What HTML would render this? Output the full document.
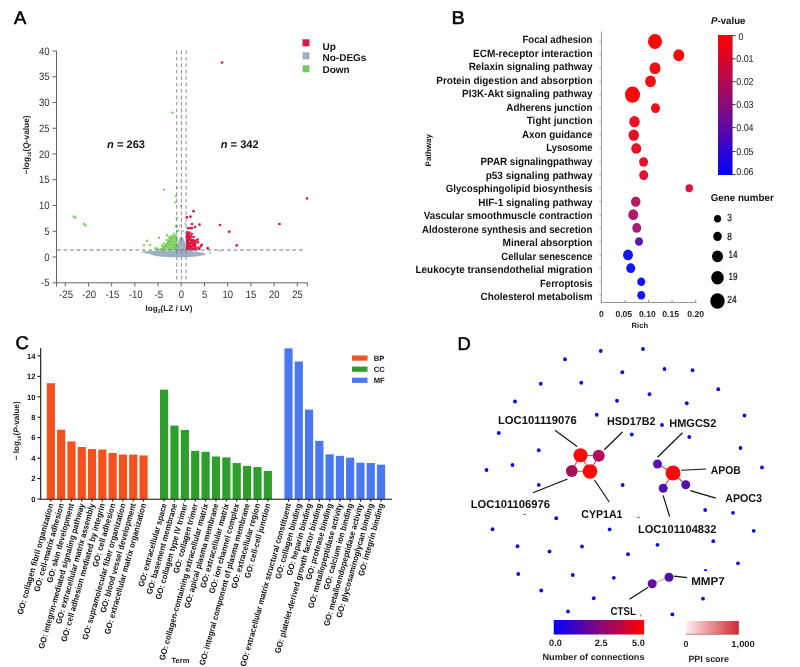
<!DOCTYPE html>
<html><head><meta charset="utf-8"><title>Figure</title>
<style>html,body{margin:0;padding:0;background:#fff;}svg{display:block;font-family:"Liberation Sans",sans-serif;text-rendering:geometricPrecision;filter:blur(0.3px);}</style>
</head><body>
<svg width="800" height="667" viewBox="0 0 800 667">
<rect width="800" height="667" fill="#fff"/>
<text x="13.90" y="24.10" font-size="18.4" font-weight="normal" text-anchor="start" fill="#000" stroke="#000" stroke-width="0.55">A</text>
<text x="451.50" y="24.10" font-size="18.4" font-weight="normal" text-anchor="start" fill="#000" textLength="13.3" lengthAdjust="spacingAndGlyphs" stroke="#000" stroke-width="0.55">B</text>
<text x="15.50" y="349.40" font-size="18.4" font-weight="normal" text-anchor="start" fill="#000" stroke="#000" stroke-width="0.55">C</text>
<text x="457.50" y="350.00" font-size="18.4" font-weight="normal" text-anchor="start" fill="#000" stroke="#000" stroke-width="0.55">D</text>
<g id="pA">
<g fill="#9bafc5">
<ellipse cx="178" cy="254" rx="27.5" ry="3.3"/>
<path d="M141 251.8 L146 251.2 L152 251 L165 250.6 L165 254 L150 254 L143 252.8 Z"/>
<path d="M176.3 252 L177.3 244 L179 239.5 L180.5 237 L181.5 236.2 L183 238 L185 242.5 L186.4 252 Z"/>
</g>
<g fill="#7fcf60">
<path d="M159 250.4 L162.5 246.6 L165.5 244.2 L167.5 240.8 L169.5 238.2 L172.5 236 L175.5 234.6 L177.4 235.2 L177.6 250.4 Z"/>
<circle cx="172.5" cy="112.75" r="1.2"/>
<circle cx="163.9" cy="189.8" r="1.2"/>
<circle cx="175.5" cy="202.4" r="1.2"/>
<circle cx="147" cy="240.7" r="1.2"/>
<circle cx="144" cy="245.2" r="1.2"/>
<circle cx="150" cy="245" r="1.2"/>
<circle cx="159" cy="237.7" r="1.2"/>
<circle cx="167" cy="235.2" r="1.2"/>
<circle cx="172.5" cy="235.5" r="1.2"/>
<circle cx="155.2" cy="248.2" r="1.2"/>
<circle cx="160.5" cy="249.3" r="1.2"/>
<circle cx="164" cy="243.5" r="1.2"/>
<circle cx="176" cy="226" r="1.2"/>
<circle cx="176.6" cy="218" r="1.2"/>
<circle cx="177" cy="231" r="1.2"/>
<circle cx="176" cy="196" r="1.2"/>
<circle cx="166.5" cy="240" r="1.2"/>
<circle cx="162" cy="245.5" r="1.2"/>
<circle cx="169" cy="238" r="1.2"/>
<circle cx="157.5" cy="248.8" r="1.2"/>
<circle cx="165.5" cy="246" r="1.2"/>
<circle cx="170.3" cy="236.8" r="1.2"/>
<circle cx="174.2" cy="233.6" r="1.2"/>
<circle cx="73.75" cy="216.5" r="1.25"/>
<circle cx="75.2" cy="217.4" r="1.25"/>
<circle cx="83.75" cy="224" r="1.25"/>
<circle cx="85.5" cy="225.4" r="1.25"/>
</g>
<g fill="#fff" opacity="0.75">
<circle cx="172" cy="243" r="0.6"/>
<circle cx="169.5" cy="246.5" r="0.6"/>
<circle cx="174" cy="240" r="0.6"/>
<circle cx="166.5" cy="248.2" r="0.6"/>
<circle cx="171" cy="248" r="0.6"/>
</g>
<g fill="#dc1848">
<path d="M185.8 232.6 L188.5 232.6 L190.3 236.5 L192.3 239.5 L194.6 242 L196.2 245 L197.2 250.4 L185.8 250.4 Z"/>
<circle cx="222" cy="62.5" r="1.35"/>
<circle cx="307" cy="198.5" r="1.35"/>
<circle cx="279.5" cy="224" r="1.35"/>
<circle cx="220" cy="225" r="1.35"/>
<circle cx="229.2" cy="231.7" r="1.35"/>
<circle cx="236.7" cy="245.4" r="1.35"/>
<circle cx="193.5" cy="211.2" r="1.35"/>
<circle cx="186.9" cy="217.3" r="1.35"/>
<circle cx="190.5" cy="216.7" r="1.35"/>
<circle cx="192" cy="224" r="1.35"/>
<circle cx="199.5" cy="224.7" r="1.35"/>
<circle cx="195" cy="227" r="1.35"/>
<circle cx="188.2" cy="228.3" r="1.35"/>
<circle cx="190.3" cy="228.1" r="1.35"/>
<circle cx="191.8" cy="228.2" r="1.35"/>
<circle cx="186.8" cy="236.5" r="1.35"/>
<circle cx="189" cy="235" r="1.35"/>
<circle cx="195.7" cy="240.7" r="1.35"/>
<circle cx="198" cy="242.2" r="1.35"/>
<circle cx="201.7" cy="244.8" r="1.35"/>
<circle cx="200.8" cy="246.3" r="1.35"/>
<circle cx="207.7" cy="248.2" r="1.35"/>
<circle cx="197.6" cy="239.5" r="1.35"/>
<circle cx="193.6" cy="237" r="1.35"/>
<circle cx="191.6" cy="233.8" r="1.35"/>
<circle cx="193" cy="240.2" r="1.35"/>
<circle cx="195.5" cy="243.5" r="1.35"/>
<circle cx="198.2" cy="247.8" r="1.35"/>
<circle cx="199.3" cy="249" r="1.35"/>
<circle cx="194.5" cy="241.5" r="1.35"/>
<circle cx="191.2" cy="236.3" r="1.35"/>
<circle cx="187" cy="232.3" r="1.35"/>
<circle cx="189.2" cy="232.6" r="1.35"/>
</g>
<g fill="#fff" opacity="0.75">
<circle cx="191.5" cy="244.5" r="0.55"/>
<circle cx="193.3" cy="247.2" r="0.55"/>
<circle cx="189.8" cy="241.2" r="0.55"/>
</g>
<g fill="#9bafc5">
<circle cx="210" cy="252.8" r="0.95"/>
<circle cx="219.5" cy="250.8" r="0.95"/>
<circle cx="185.2" cy="223.8" r="0.95"/>
<circle cx="180" cy="225.5" r="0.95"/>
<circle cx="183" cy="231" r="0.95"/>
<circle cx="177.3" cy="226.5" r="0.95"/>
<circle cx="181.5" cy="238" r="0.95"/>
<circle cx="178.5" cy="230.5" r="0.95"/>
<circle cx="181" cy="205.5" r="0.95"/>
<circle cx="176.8" cy="188" r="0.95"/>
<ellipse cx="181.4" cy="246" rx="0.9" ry="2" fill="#fff" opacity="0.8"/>
</g>
<g stroke="#777" stroke-width="0.85" stroke-dasharray="3.7 2.74" fill="none">
<line x1="176.8" y1="50.5" x2="176.8" y2="280.5"/>
<line x1="181.4" y1="50.5" x2="181.4" y2="280.5"/>
<line x1="186.1" y1="50.5" x2="186.1" y2="280.5"/>
<line x1="57" y1="250" x2="304.3" y2="250" stroke-dasharray="3.75 2.79" stroke-width="1"/>
</g>
<g stroke="#555" stroke-width="0.9" fill="none">
<path d="M56.5 50.5 V282.8 H307.5"/>
<line x1="52.5" x2="56.5" y1="282.75" y2="282.75"/>
<line x1="52.5" x2="56.5" y1="257.00" y2="257.00"/>
<line x1="52.5" x2="56.5" y1="231.25" y2="231.25"/>
<line x1="52.5" x2="56.5" y1="205.50" y2="205.50"/>
<line x1="52.5" x2="56.5" y1="179.75" y2="179.75"/>
<line x1="52.5" x2="56.5" y1="154.00" y2="154.00"/>
<line x1="52.5" x2="56.5" y1="128.25" y2="128.25"/>
<line x1="52.5" x2="56.5" y1="102.50" y2="102.50"/>
<line x1="52.5" x2="56.5" y1="76.75" y2="76.75"/>
<line x1="52.5" x2="56.5" y1="51.00" y2="51.00"/>
<line y1="282.8" y2="286.5" x1="65.25" x2="65.25"/>
<line y1="282.8" y2="286.5" x1="88.45" x2="88.45"/>
<line y1="282.8" y2="286.5" x1="111.65" x2="111.65"/>
<line y1="282.8" y2="286.5" x1="134.85" x2="134.85"/>
<line y1="282.8" y2="286.5" x1="158.05" x2="158.05"/>
<line y1="282.8" y2="286.5" x1="181.25" x2="181.25"/>
<line y1="282.8" y2="286.5" x1="204.45" x2="204.45"/>
<line y1="282.8" y2="286.5" x1="227.65" x2="227.65"/>
<line y1="282.8" y2="286.5" x1="250.85" x2="250.85"/>
<line y1="282.8" y2="286.5" x1="274.05" x2="274.05"/>
<line y1="282.8" y2="286.5" x1="297.25" x2="297.25"/>
<line y1="282.8" y2="286.5" x1="56.5" x2="56.5"/><line y1="282.8" y2="286.5" x1="307.3" x2="307.3"/>
</g>
<text x="49.60" y="286.45" font-size="10.7" font-weight="normal" text-anchor="end" fill="#333" textLength="8.6" lengthAdjust="spacingAndGlyphs">-5</text>
<text x="49.60" y="260.70" font-size="10.7" font-weight="normal" text-anchor="end" fill="#333" textLength="5.3" lengthAdjust="spacingAndGlyphs">0</text>
<text x="49.60" y="234.95" font-size="10.7" font-weight="normal" text-anchor="end" fill="#333" textLength="5.3" lengthAdjust="spacingAndGlyphs">5</text>
<text x="49.60" y="209.20" font-size="10.7" font-weight="normal" text-anchor="end" fill="#333" textLength="10.6" lengthAdjust="spacingAndGlyphs">10</text>
<text x="49.60" y="183.45" font-size="10.7" font-weight="normal" text-anchor="end" fill="#333" textLength="10.6" lengthAdjust="spacingAndGlyphs">15</text>
<text x="49.60" y="157.70" font-size="10.7" font-weight="normal" text-anchor="end" fill="#333" textLength="10.6" lengthAdjust="spacingAndGlyphs">20</text>
<text x="49.60" y="131.95" font-size="10.7" font-weight="normal" text-anchor="end" fill="#333" textLength="10.6" lengthAdjust="spacingAndGlyphs">25</text>
<text x="49.60" y="106.20" font-size="10.7" font-weight="normal" text-anchor="end" fill="#333" textLength="10.6" lengthAdjust="spacingAndGlyphs">30</text>
<text x="49.60" y="80.45" font-size="10.7" font-weight="normal" text-anchor="end" fill="#333" textLength="10.6" lengthAdjust="spacingAndGlyphs">35</text>
<text x="49.60" y="54.70" font-size="10.7" font-weight="normal" text-anchor="end" fill="#333" textLength="10.6" lengthAdjust="spacingAndGlyphs">40</text>
<text x="66.05" y="297.90" font-size="10.7" font-weight="normal" text-anchor="middle" fill="#333" textLength="13.9" lengthAdjust="spacingAndGlyphs">-25</text>
<text x="89.25" y="297.90" font-size="10.7" font-weight="normal" text-anchor="middle" fill="#333" textLength="13.9" lengthAdjust="spacingAndGlyphs">-20</text>
<text x="112.45" y="297.90" font-size="10.7" font-weight="normal" text-anchor="middle" fill="#333" textLength="13.9" lengthAdjust="spacingAndGlyphs">-15</text>
<text x="135.65" y="297.90" font-size="10.7" font-weight="normal" text-anchor="middle" fill="#333" textLength="13.9" lengthAdjust="spacingAndGlyphs">-10</text>
<text x="158.85" y="297.90" font-size="10.7" font-weight="normal" text-anchor="middle" fill="#333" textLength="8.6" lengthAdjust="spacingAndGlyphs">-5</text>
<text x="181.45" y="297.90" font-size="10.7" font-weight="normal" text-anchor="middle" fill="#333" textLength="5.3" lengthAdjust="spacingAndGlyphs">0</text>
<text x="204.65" y="297.90" font-size="10.7" font-weight="normal" text-anchor="middle" fill="#333" textLength="5.3" lengthAdjust="spacingAndGlyphs">5</text>
<text x="227.85" y="297.90" font-size="10.7" font-weight="normal" text-anchor="middle" fill="#333" textLength="10.6" lengthAdjust="spacingAndGlyphs">10</text>
<text x="251.05" y="297.90" font-size="10.7" font-weight="normal" text-anchor="middle" fill="#333" textLength="10.6" lengthAdjust="spacingAndGlyphs">15</text>
<text x="274.25" y="297.90" font-size="10.7" font-weight="normal" text-anchor="middle" fill="#333" textLength="10.6" lengthAdjust="spacingAndGlyphs">20</text>
<text x="297.45" y="297.90" font-size="10.7" font-weight="normal" text-anchor="middle" fill="#333" textLength="10.6" lengthAdjust="spacingAndGlyphs">25</text>
<text x="145.50" y="311.00" font-size="8.1" font-weight="bold" text-anchor="start" fill="#222">log<tspan font-size="5.3" dy="1.5">2</tspan><tspan dy="-1.5">(LZ / LV)</tspan></text>
<text x="29.50" y="174.30" font-size="8.3" font-weight="bold" text-anchor="start" fill="#222" transform="rotate(-90 29.50 174.30)">&#8722;log<tspan font-size="5" dy="1.5">10</tspan><tspan dy="-1.5">(</tspan><tspan font-style="italic">Q</tspan>-value)</text>
<text x="107.00" y="147.60" font-size="11" font-weight="bold" text-anchor="start" fill="#111" textLength="38.0" lengthAdjust="spacingAndGlyphs"><tspan font-style="italic">n</tspan> = 263</text>
<text x="220.70" y="147.60" font-size="11" font-weight="bold" text-anchor="start" fill="#111" textLength="38.0" lengthAdjust="spacingAndGlyphs"><tspan font-style="italic">n</tspan> = 342</text>
<rect x="302.5" y="39.3" width="7" height="7" fill="#dc1848"/>
<text x="322.50" y="49.50" font-size="10" font-weight="bold" text-anchor="start" fill="#111">Up</text>
<rect x="302.5" y="52.3" width="7" height="7" fill="#9bafc5"/>
<text x="322.50" y="61.20" font-size="10" font-weight="bold" text-anchor="start" fill="#111">No-DEGs</text>
<rect x="302.5" y="65.3" width="7" height="7" fill="#74c864"/>
<text x="322.50" y="72.90" font-size="10" font-weight="bold" text-anchor="start" fill="#111">Down</text>
</g>
<g id="pB">
<text x="592.50" y="43.20" font-size="10.5" font-weight="bold" text-anchor="end" fill="#111" textLength="70.0" lengthAdjust="spacingAndGlyphs">Focal adhesion</text>
<text x="592.50" y="56.73" font-size="10.5" font-weight="bold" text-anchor="end" fill="#111" textLength="119.5" lengthAdjust="spacingAndGlyphs">ECM-receptor interaction</text>
<text x="592.50" y="70.26" font-size="10.5" font-weight="bold" text-anchor="end" fill="#111" textLength="123.8" lengthAdjust="spacingAndGlyphs">Relaxin signaling pathway</text>
<text x="592.50" y="83.79" font-size="10.5" font-weight="bold" text-anchor="end" fill="#111" textLength="156.2" lengthAdjust="spacingAndGlyphs">Protein digestion and absorption</text>
<text x="592.50" y="97.32" font-size="10.5" font-weight="bold" text-anchor="end" fill="#111" textLength="130.5" lengthAdjust="spacingAndGlyphs">PI3K-Akt signaling pathway</text>
<text x="592.50" y="110.85" font-size="10.5" font-weight="bold" text-anchor="end" fill="#111" textLength="86.2" lengthAdjust="spacingAndGlyphs">Adherens junction</text>
<text x="592.50" y="124.38" font-size="10.5" font-weight="bold" text-anchor="end" fill="#111" textLength="65.8" lengthAdjust="spacingAndGlyphs">Tight junction</text>
<text x="592.50" y="137.91" font-size="10.5" font-weight="bold" text-anchor="end" fill="#111" textLength="70.5" lengthAdjust="spacingAndGlyphs">Axon guidance</text>
<text x="592.50" y="151.44" font-size="10.5" font-weight="bold" text-anchor="end" fill="#111" textLength="46.2" lengthAdjust="spacingAndGlyphs">Lysosome</text>
<text x="592.50" y="164.97" font-size="10.5" font-weight="bold" text-anchor="end" fill="#111" textLength="112.0" lengthAdjust="spacingAndGlyphs">PPAR signalingpathway</text>
<text x="592.50" y="178.50" font-size="10.5" font-weight="bold" text-anchor="end" fill="#111" textLength="106.8" lengthAdjust="spacingAndGlyphs">p53 signaling pathway</text>
<text x="592.50" y="192.03" font-size="10.5" font-weight="bold" text-anchor="end" fill="#111" textLength="146.8" lengthAdjust="spacingAndGlyphs">Glycosphingolipid biosynthesis</text>
<text x="592.50" y="205.56" font-size="10.5" font-weight="bold" text-anchor="end" fill="#111" textLength="114.2" lengthAdjust="spacingAndGlyphs">HIF-1 signaling pathway</text>
<text x="592.50" y="219.09" font-size="10.5" font-weight="bold" text-anchor="end" fill="#111" textLength="168.8" lengthAdjust="spacingAndGlyphs">Vascular smoothmuscle contraction</text>
<text x="592.50" y="232.62" font-size="10.5" font-weight="bold" text-anchor="end" fill="#111" textLength="170.5" lengthAdjust="spacingAndGlyphs">Aldosterone synthesis and secretion</text>
<text x="592.50" y="246.15" font-size="10.5" font-weight="bold" text-anchor="end" fill="#111" textLength="90.0" lengthAdjust="spacingAndGlyphs">Mineral absorption</text>
<text x="592.50" y="259.68" font-size="10.5" font-weight="bold" text-anchor="end" fill="#111" textLength="91.2" lengthAdjust="spacingAndGlyphs">Cellular senescence</text>
<text x="592.50" y="273.21" font-size="10.5" font-weight="bold" text-anchor="end" fill="#111" textLength="177.0" lengthAdjust="spacingAndGlyphs">Leukocyte transendothelial migration</text>
<text x="592.50" y="286.74" font-size="10.5" font-weight="bold" text-anchor="end" fill="#111" textLength="52.5" lengthAdjust="spacingAndGlyphs">Ferroptosis</text>
<text x="592.50" y="300.27" font-size="10.5" font-weight="bold" text-anchor="end" fill="#111" textLength="112.0" lengthAdjust="spacingAndGlyphs">Cholesterol metabolism</text>
<g stroke="#8a8a8a" stroke-width="0.9" fill="none">
<path d="M601.4 31.5 V302.5 H696.5"/>
<line x1="599.3" x2="601.3" y1="41.30" y2="41.30" stroke="#a8a8a8"/>
<line x1="599.3" x2="601.3" y1="54.65" y2="54.65" stroke="#a8a8a8"/>
<line x1="599.3" x2="601.3" y1="68.00" y2="68.00" stroke="#a8a8a8"/>
<line x1="599.3" x2="601.3" y1="81.35" y2="81.35" stroke="#a8a8a8"/>
<line x1="599.3" x2="601.3" y1="94.70" y2="94.70" stroke="#a8a8a8"/>
<line x1="599.3" x2="601.3" y1="108.05" y2="108.05" stroke="#a8a8a8"/>
<line x1="599.3" x2="601.3" y1="121.40" y2="121.40" stroke="#a8a8a8"/>
<line x1="599.3" x2="601.3" y1="134.75" y2="134.75" stroke="#a8a8a8"/>
<line x1="599.3" x2="601.3" y1="148.10" y2="148.10" stroke="#a8a8a8"/>
<line x1="599.3" x2="601.3" y1="161.45" y2="161.45" stroke="#a8a8a8"/>
<line x1="599.3" x2="601.3" y1="174.80" y2="174.80" stroke="#a8a8a8"/>
<line x1="599.3" x2="601.3" y1="188.15" y2="188.15" stroke="#a8a8a8"/>
<line x1="599.3" x2="601.3" y1="201.50" y2="201.50" stroke="#a8a8a8"/>
<line x1="599.3" x2="601.3" y1="214.85" y2="214.85" stroke="#a8a8a8"/>
<line x1="599.3" x2="601.3" y1="228.20" y2="228.20" stroke="#a8a8a8"/>
<line x1="599.3" x2="601.3" y1="241.55" y2="241.55" stroke="#a8a8a8"/>
<line x1="599.3" x2="601.3" y1="254.90" y2="254.90" stroke="#a8a8a8"/>
<line x1="599.3" x2="601.3" y1="268.25" y2="268.25" stroke="#a8a8a8"/>
<line x1="599.3" x2="601.3" y1="281.60" y2="281.60" stroke="#a8a8a8"/>
<line x1="599.3" x2="601.3" y1="294.95" y2="294.95" stroke="#a8a8a8"/>
<line y1="300" y2="302.5" x1="601.30" x2="601.30"/>
<line y1="300" y2="302.5" x1="624.90" x2="624.90"/>
<line y1="300" y2="302.5" x1="648.50" x2="648.50"/>
<line y1="300" y2="302.5" x1="672.10" x2="672.10"/>
<line y1="300" y2="302.5" x1="695.70" x2="695.70"/>
</g>
<text x="601.30" y="316.90" font-size="8.6" font-weight="bold" text-anchor="middle" fill="#222">0</text>
<text x="623.80" y="316.90" font-size="8.6" font-weight="bold" text-anchor="middle" fill="#222">0.05</text>
<text x="647.40" y="316.90" font-size="8.6" font-weight="bold" text-anchor="middle" fill="#222">0.10</text>
<text x="670.60" y="316.90" font-size="8.6" font-weight="bold" text-anchor="middle" fill="#222">0.15</text>
<text x="695.60" y="316.90" font-size="8.6" font-weight="bold" text-anchor="middle" fill="#222">0.20</text>
<text x="639.80" y="327.80" font-size="7.6" font-weight="bold" text-anchor="middle" fill="#222">Rich</text>
<text x="431.00" y="150.20" font-size="8" font-weight="bold" text-anchor="middle" fill="#1a1a1a" transform="rotate(-90 431.00 150.20)">Pathway</text>
<ellipse cx="655" cy="41.45" rx="7" ry="7.56" fill="#fb0808"/>
<ellipse cx="678.75" cy="55.2" rx="5.5" ry="5.94" fill="#f80a0c"/>
<ellipse cx="655" cy="68.2" rx="5.5" ry="5.94" fill="#f50c10"/>
<ellipse cx="650.5" cy="81.45" rx="5.4" ry="5.83" fill="#f40c12"/>
<ellipse cx="632.5" cy="94.7" rx="7.5" ry="8.10" fill="#fa080a"/>
<ellipse cx="655.5" cy="108.2" rx="4.5" ry="4.86" fill="#f20e16"/>
<ellipse cx="634.5" cy="121.7" rx="5.25" ry="5.67" fill="#ea1020"/>
<ellipse cx="633.75" cy="135.2" rx="5.25" ry="5.67" fill="#e41226"/>
<ellipse cx="636.25" cy="148.45" rx="5" ry="5.40" fill="#e4122a"/>
<ellipse cx="643.6" cy="162.0" rx="4.5" ry="4.86" fill="#e8102a"/>
<ellipse cx="643.75" cy="175.2" rx="4.5" ry="4.86" fill="#e01234"/>
<ellipse cx="689.25" cy="188.2" rx="3.75" ry="4.05" fill="#d8143c"/>
<ellipse cx="635.75" cy="201.7" rx="4.75" ry="5.13" fill="#b81a60"/>
<ellipse cx="633.25" cy="214.7" rx="5" ry="5.40" fill="#b01a6c"/>
<ellipse cx="636.75" cy="227.95" rx="4.5" ry="4.86" fill="#a81a76"/>
<ellipse cx="639" cy="241.45" rx="4" ry="4.32" fill="#5418b4"/>
<ellipse cx="628" cy="254.95" rx="5" ry="5.40" fill="#1414ec"/>
<ellipse cx="630.75" cy="268.2" rx="4.5" ry="4.86" fill="#1414f6"/>
<ellipse cx="641.25" cy="281.7" rx="4" ry="4.32" fill="#1010fa"/>
<ellipse cx="641.25" cy="295.2" rx="4" ry="4.32" fill="#1212f8"/>
<defs><linearGradient id="gB" x1="0" y1="0" x2="0" y2="1"><stop offset="0" stop-color="#ff0000"/><stop offset="0.5" stop-color="#8a0c7a"/><stop offset="1" stop-color="#0000ff"/></linearGradient></defs>
<rect x="718" y="35" width="14.3" height="140" fill="url(#gB)"/>
<line x1="732.3" x2="732.3" y1="35" y2="175" stroke="#301030" stroke-width="0.6" opacity="0.7"/>
<g stroke="#222" stroke-width="0.9">
<line x1="732.3" x2="735.6" y1="35.6" y2="35.6"/>
<line x1="732.3" x2="735.6" y1="58.8" y2="58.8"/>
<line x1="732.3" x2="735.6" y1="81.6" y2="81.6"/>
<line x1="732.3" x2="735.6" y1="104.6" y2="104.6"/>
<line x1="732.3" x2="735.6" y1="127.6" y2="127.6"/>
<line x1="732.3" x2="735.6" y1="151.5" y2="151.5"/>
<line x1="732.3" x2="735.6" y1="174.6" y2="174.6"/>
</g>
<text x="738.60" y="40.25" font-size="10" font-weight="normal" text-anchor="start" fill="#1a1a1a" textLength="5.0" lengthAdjust="spacingAndGlyphs">0</text>
<text x="736.20" y="62.25" font-size="10" font-weight="normal" text-anchor="start" fill="#1a1a1a" textLength="17.4" lengthAdjust="spacingAndGlyphs">0.01</text>
<text x="736.20" y="84.75" font-size="10" font-weight="normal" text-anchor="start" fill="#1a1a1a" textLength="17.4" lengthAdjust="spacingAndGlyphs">0.02</text>
<text x="736.20" y="107.50" font-size="10" font-weight="normal" text-anchor="start" fill="#1a1a1a" textLength="17.4" lengthAdjust="spacingAndGlyphs">0.03</text>
<text x="736.20" y="130.50" font-size="10" font-weight="normal" text-anchor="start" fill="#1a1a1a" textLength="17.4" lengthAdjust="spacingAndGlyphs">0.04</text>
<text x="736.20" y="154.75" font-size="10" font-weight="normal" text-anchor="start" fill="#1a1a1a" textLength="17.4" lengthAdjust="spacingAndGlyphs">0.05</text>
<text x="736.20" y="175.25" font-size="10" font-weight="normal" text-anchor="start" fill="#1a1a1a" textLength="17.4" lengthAdjust="spacingAndGlyphs">0.06</text>
<text x="711.00" y="24.00" font-size="10" font-weight="bold" text-anchor="start" fill="#111" textLength="34.5" lengthAdjust="spacingAndGlyphs"><tspan font-style="italic">P</tspan>-value</text>
<text x="710.75" y="200.70" font-size="10" font-weight="bold" text-anchor="start" fill="#111" textLength="63.0" lengthAdjust="spacingAndGlyphs">Gene number</text>
<ellipse cx="717.5" cy="218.8" rx="3.5" ry="3.75" fill="#000"/>
<text x="727.30" y="220.85" font-size="10.4" font-weight="normal" text-anchor="start" fill="#111" textLength="4.6" lengthAdjust="spacingAndGlyphs" stroke="#111" stroke-width="0.2">3</text>
<ellipse cx="717.5" cy="236.4" rx="4.3" ry="4.60" fill="#000"/>
<text x="727.30" y="239.55" font-size="10.4" font-weight="normal" text-anchor="start" fill="#111" textLength="4.6" lengthAdjust="spacingAndGlyphs" stroke="#111" stroke-width="0.2">8</text>
<ellipse cx="717.5" cy="256.3" rx="5.5" ry="5.89" fill="#000"/>
<text x="728.60" y="257.75" font-size="10.4" font-weight="normal" text-anchor="start" fill="#111" textLength="9.0" lengthAdjust="spacingAndGlyphs" stroke="#111" stroke-width="0.2">14</text>
<ellipse cx="717.5" cy="277.7" rx="6.3" ry="6.74" fill="#000"/>
<text x="728.60" y="279.55" font-size="10.4" font-weight="normal" text-anchor="start" fill="#111" textLength="9.0" lengthAdjust="spacingAndGlyphs" stroke="#111" stroke-width="0.2">19</text>
<ellipse cx="717.5" cy="301" rx="7.2" ry="7.70" fill="#000"/>
<text x="727.30" y="303.25" font-size="10.4" font-weight="normal" text-anchor="start" fill="#111" textLength="9.4" lengthAdjust="spacingAndGlyphs" stroke="#111" stroke-width="0.2">24</text>
</g>
<g id="pC">
<rect x="46.75" y="383.21" width="8.2" height="115.79" fill="#f4511e"/>
<rect x="57.05" y="429.71" width="8.2" height="69.29" fill="#f4511e"/>
<rect x="67.35" y="441.46" width="8.2" height="57.54" fill="#f4511e"/>
<rect x="77.65" y="446.98" width="8.2" height="52.02" fill="#f4511e"/>
<rect x="87.95" y="449.02" width="8.2" height="49.98" fill="#f4511e"/>
<rect x="98.25" y="449.54" width="8.2" height="49.46" fill="#f4511e"/>
<rect x="108.55" y="453.01" width="8.2" height="45.99" fill="#f4511e"/>
<rect x="118.85" y="454.54" width="8.2" height="44.46" fill="#f4511e"/>
<rect x="129.15" y="454.54" width="8.2" height="44.46" fill="#f4511e"/>
<rect x="139.45" y="455.46" width="8.2" height="43.54" fill="#f4511e"/>
<rect x="160.00" y="389.65" width="8.2" height="109.35" fill="#2e9e2c"/>
<rect x="170.38" y="425.62" width="8.2" height="73.38" fill="#2e9e2c"/>
<rect x="180.75" y="429.91" width="8.2" height="69.09" fill="#2e9e2c"/>
<rect x="191.12" y="450.86" width="8.2" height="48.14" fill="#2e9e2c"/>
<rect x="201.50" y="451.78" width="8.2" height="47.22" fill="#2e9e2c"/>
<rect x="211.88" y="456.48" width="8.2" height="42.52" fill="#2e9e2c"/>
<rect x="222.25" y="457.40" width="8.2" height="41.60" fill="#2e9e2c"/>
<rect x="232.62" y="463.03" width="8.2" height="35.97" fill="#2e9e2c"/>
<rect x="243.00" y="465.89" width="8.2" height="33.11" fill="#2e9e2c"/>
<rect x="253.38" y="467.11" width="8.2" height="31.89" fill="#2e9e2c"/>
<rect x="263.75" y="470.89" width="8.2" height="28.11" fill="#2e9e2c"/>
<rect x="284.40" y="348.36" width="8.2" height="150.64" fill="#4a78f0"/>
<rect x="294.68" y="361.54" width="8.2" height="137.46" fill="#4a78f0"/>
<rect x="304.96" y="409.57" width="8.2" height="89.43" fill="#4a78f0"/>
<rect x="315.24" y="440.85" width="8.2" height="58.15" fill="#4a78f0"/>
<rect x="325.52" y="454.34" width="8.2" height="44.66" fill="#4a78f0"/>
<rect x="335.80" y="455.87" width="8.2" height="43.13" fill="#4a78f0"/>
<rect x="346.08" y="457.71" width="8.2" height="41.29" fill="#4a78f0"/>
<rect x="356.36" y="462.72" width="8.2" height="36.28" fill="#4a78f0"/>
<rect x="366.64" y="463.03" width="8.2" height="35.97" fill="#4a78f0"/>
<rect x="376.92" y="464.66" width="8.2" height="34.34" fill="#4a78f0"/>
<g stroke="#111" stroke-width="1.1" fill="none">
<path d="M40.7 348 V499.2 H392"/>
<line x1="37.5" x2="40.5" y1="499.00" y2="499.00"/>
<line x1="37.5" x2="40.5" y1="478.56" y2="478.56"/>
<line x1="37.5" x2="40.5" y1="458.12" y2="458.12"/>
<line x1="37.5" x2="40.5" y1="437.68" y2="437.68"/>
<line x1="37.5" x2="40.5" y1="417.24" y2="417.24"/>
<line x1="37.5" x2="40.5" y1="396.80" y2="396.80"/>
<line x1="37.5" x2="40.5" y1="376.36" y2="376.36"/>
<line x1="37.5" x2="40.5" y1="355.92" y2="355.92"/>
<line y1="499" y2="501.5" x1="50.85" x2="50.85"/>
<line y1="499" y2="501.5" x1="61.15" x2="61.15"/>
<line y1="499" y2="501.5" x1="71.45" x2="71.45"/>
<line y1="499" y2="501.5" x1="81.75" x2="81.75"/>
<line y1="499" y2="501.5" x1="92.05" x2="92.05"/>
<line y1="499" y2="501.5" x1="102.35" x2="102.35"/>
<line y1="499" y2="501.5" x1="112.65" x2="112.65"/>
<line y1="499" y2="501.5" x1="122.95" x2="122.95"/>
<line y1="499" y2="501.5" x1="133.25" x2="133.25"/>
<line y1="499" y2="501.5" x1="143.55" x2="143.55"/>
<line y1="499" y2="501.5" x1="164.10" x2="164.10"/>
<line y1="499" y2="501.5" x1="174.47" x2="174.47"/>
<line y1="499" y2="501.5" x1="184.85" x2="184.85"/>
<line y1="499" y2="501.5" x1="195.22" x2="195.22"/>
<line y1="499" y2="501.5" x1="205.60" x2="205.60"/>
<line y1="499" y2="501.5" x1="215.97" x2="215.97"/>
<line y1="499" y2="501.5" x1="226.35" x2="226.35"/>
<line y1="499" y2="501.5" x1="236.72" x2="236.72"/>
<line y1="499" y2="501.5" x1="247.10" x2="247.10"/>
<line y1="499" y2="501.5" x1="257.48" x2="257.48"/>
<line y1="499" y2="501.5" x1="267.85" x2="267.85"/>
<line y1="499" y2="501.5" x1="288.50" x2="288.50"/>
<line y1="499" y2="501.5" x1="298.78" x2="298.78"/>
<line y1="499" y2="501.5" x1="309.06" x2="309.06"/>
<line y1="499" y2="501.5" x1="319.34" x2="319.34"/>
<line y1="499" y2="501.5" x1="329.62" x2="329.62"/>
<line y1="499" y2="501.5" x1="339.90" x2="339.90"/>
<line y1="499" y2="501.5" x1="350.18" x2="350.18"/>
<line y1="499" y2="501.5" x1="360.46" x2="360.46"/>
<line y1="499" y2="501.5" x1="370.74" x2="370.74"/>
<line y1="499" y2="501.5" x1="381.02" x2="381.02"/>
</g>
<text x="35.50" y="501.80" font-size="7.6" font-weight="bold" text-anchor="end" fill="#111">0</text>
<text x="35.50" y="481.36" font-size="7.6" font-weight="bold" text-anchor="end" fill="#111">2</text>
<text x="35.50" y="460.92" font-size="7.6" font-weight="bold" text-anchor="end" fill="#111">4</text>
<text x="35.50" y="440.48" font-size="7.6" font-weight="bold" text-anchor="end" fill="#111">6</text>
<text x="35.50" y="420.04" font-size="7.6" font-weight="bold" text-anchor="end" fill="#111">8</text>
<text x="35.50" y="399.60" font-size="7.6" font-weight="bold" text-anchor="end" fill="#111">10</text>
<text x="35.50" y="379.16" font-size="7.6" font-weight="bold" text-anchor="end" fill="#111">12</text>
<text x="35.50" y="358.72" font-size="7.6" font-weight="bold" text-anchor="end" fill="#111">14</text>
<text x="19.20" y="430.80" font-size="8.1" font-weight="bold" text-anchor="middle" fill="#222" transform="rotate(-90 19.20 430.80)">&#8722; log<tspan font-size="5" dy="1.5">10</tspan><tspan dy="-1.5">(</tspan><tspan font-style="italic">P</tspan>-value)</text>
<text x="180.50" y="662.50" font-size="7.5" font-weight="bold" text-anchor="middle" fill="#222">Term</text>
<rect x="352" y="355.50" width="15.5" height="5.2" fill="#f4511e"/>
<text x="373.70" y="360.80" font-size="7.6" font-weight="bold" text-anchor="start" fill="#111">BP</text>
<rect x="352" y="366.60" width="15.5" height="5.2" fill="#2e9e2c"/>
<text x="373.70" y="371.90" font-size="7.6" font-weight="bold" text-anchor="start" fill="#111">CC</text>
<rect x="352" y="377.70" width="15.5" height="5.2" fill="#4a78f0"/>
<text x="373.70" y="383.00" font-size="7.6" font-weight="bold" text-anchor="start" fill="#111">MF</text>
<text x="53.65" y="504.30" font-size="8.3" font-weight="bold" text-anchor="end" fill="#111" textLength="114.9" lengthAdjust="spacingAndGlyphs" transform="rotate(-74.3 53.65 504.30)">GO: collagen fibril organization</text>
<text x="63.95" y="504.30" font-size="8.3" font-weight="bold" text-anchor="end" fill="#111" textLength="91.4" lengthAdjust="spacingAndGlyphs" transform="rotate(-74.3 63.95 504.30)">GO: cell-matrix adhesion</text>
<text x="74.25" y="504.30" font-size="8.3" font-weight="bold" text-anchor="end" fill="#111" textLength="81.9" lengthAdjust="spacingAndGlyphs" transform="rotate(-74.3 74.25 504.30)">GO: skin development</text>
<text x="84.55" y="504.30" font-size="8.3" font-weight="bold" text-anchor="end" fill="#111" textLength="150.5" lengthAdjust="spacingAndGlyphs" transform="rotate(-74.3 84.55 504.30)">GO: integrin-mediated signaling pathway</text>
<text x="94.85" y="504.30" font-size="8.3" font-weight="bold" text-anchor="end" fill="#111" textLength="124.9" lengthAdjust="spacingAndGlyphs" transform="rotate(-74.3 94.85 504.30)">GO: extracellular matrix assembly</text>
<text x="105.15" y="504.30" font-size="8.3" font-weight="bold" text-anchor="end" fill="#111" textLength="143.3" lengthAdjust="spacingAndGlyphs" transform="rotate(-74.3 105.15 504.30)">GO: cell adhesion mediated by integrin</text>
<text x="115.45" y="504.30" font-size="8.3" font-weight="bold" text-anchor="end" fill="#111" textLength="65.6" lengthAdjust="spacingAndGlyphs" transform="rotate(-74.3 115.45 504.30)">GO: cell adhesion</text>
<text x="125.75" y="504.30" font-size="8.3" font-weight="bold" text-anchor="end" fill="#111" textLength="141.1" lengthAdjust="spacingAndGlyphs" transform="rotate(-74.3 125.75 504.30)">GO: supramolecular fiber organization</text>
<text x="136.05" y="504.30" font-size="8.3" font-weight="bold" text-anchor="end" fill="#111" textLength="113.2" lengthAdjust="spacingAndGlyphs" transform="rotate(-74.3 136.05 504.30)">GO: blood vessel development</text>
<text x="146.35" y="504.30" font-size="8.3" font-weight="bold" text-anchor="end" fill="#111" textLength="135.6" lengthAdjust="spacingAndGlyphs" transform="rotate(-74.3 146.35 504.30)">GO: extracellular matrix organization</text>
<text x="166.90" y="504.30" font-size="8.3" font-weight="bold" text-anchor="end" fill="#111" textLength="86.2" lengthAdjust="spacingAndGlyphs" transform="rotate(-74.3 166.90 504.30)">GO: extracellular space</text>
<text x="177.28" y="504.30" font-size="8.3" font-weight="bold" text-anchor="end" fill="#111" textLength="94.0" lengthAdjust="spacingAndGlyphs" transform="rotate(-74.3 177.28 504.30)">GO: basement membrane</text>
<text x="187.65" y="504.30" font-size="8.3" font-weight="bold" text-anchor="end" fill="#111" textLength="99.5" lengthAdjust="spacingAndGlyphs" transform="rotate(-74.3 187.65 504.30)">GO: collagen type IV trimer</text>
<text x="198.03" y="504.30" font-size="8.3" font-weight="bold" text-anchor="end" fill="#111" textLength="72.1" lengthAdjust="spacingAndGlyphs" transform="rotate(-74.3 198.03 504.30)">GO: collagen trimer</text>
<text x="208.40" y="504.30" font-size="8.3" font-weight="bold" text-anchor="end" fill="#111" textLength="162.6" lengthAdjust="spacingAndGlyphs" transform="rotate(-74.3 208.40 504.30)">GO: collagen-containing extracellular matrix</text>
<text x="218.78" y="504.30" font-size="8.3" font-weight="bold" text-anchor="end" fill="#111" textLength="108.5" lengthAdjust="spacingAndGlyphs" transform="rotate(-74.3 218.78 504.30)">GO: apical plasma membrane</text>
<text x="229.15" y="504.30" font-size="8.3" font-weight="bold" text-anchor="end" fill="#111" textLength="87.5" lengthAdjust="spacingAndGlyphs" transform="rotate(-74.3 229.15 504.30)">GO: extracellular matrix</text>
<text x="239.53" y="504.30" font-size="8.3" font-weight="bold" text-anchor="end" fill="#111" textLength="93.1" lengthAdjust="spacingAndGlyphs" transform="rotate(-74.3 239.53 504.30)">GO: ion channel complex</text>
<text x="249.90" y="504.30" font-size="8.3" font-weight="bold" text-anchor="end" fill="#111" textLength="167.7" lengthAdjust="spacingAndGlyphs" transform="rotate(-74.3 249.90 504.30)">GO: integral component of plasma membrane</text>
<text x="260.27" y="504.30" font-size="8.3" font-weight="bold" text-anchor="end" fill="#111" textLength="87.9" lengthAdjust="spacingAndGlyphs" transform="rotate(-74.3 260.27 504.30)">GO: extracellular region</text>
<text x="270.65" y="504.30" font-size="8.3" font-weight="bold" text-anchor="end" fill="#111" textLength="77.2" lengthAdjust="spacingAndGlyphs" transform="rotate(-74.3 270.65 504.30)">GO: cell-cell junction</text>
<text x="291.30" y="504.30" font-size="8.3" font-weight="bold" text-anchor="end" fill="#111" textLength="169.0" lengthAdjust="spacingAndGlyphs" transform="rotate(-74.3 291.30 504.30)">GO: extracellular matrix structural constituent</text>
<text x="301.58" y="504.30" font-size="8.3" font-weight="bold" text-anchor="end" fill="#111" textLength="78.0" lengthAdjust="spacingAndGlyphs" transform="rotate(-74.3 301.58 504.30)">GO: collagen binding</text>
<text x="311.86" y="504.30" font-size="8.3" font-weight="bold" text-anchor="end" fill="#111" textLength="74.6" lengthAdjust="spacingAndGlyphs" transform="rotate(-74.3 311.86 504.30)">GO: heparin binding</text>
<text x="322.14" y="504.30" font-size="8.3" font-weight="bold" text-anchor="end" fill="#111" textLength="155.3" lengthAdjust="spacingAndGlyphs" transform="rotate(-74.3 322.14 504.30)">GO: platelet-derived growth factor binding</text>
<text x="332.42" y="504.30" font-size="8.3" font-weight="bold" text-anchor="end" fill="#111" textLength="78.9" lengthAdjust="spacingAndGlyphs" transform="rotate(-74.3 332.42 504.30)">GO: protease binding</text>
<text x="342.70" y="504.30" font-size="8.3" font-weight="bold" text-anchor="end" fill="#111" textLength="108.5" lengthAdjust="spacingAndGlyphs" transform="rotate(-74.3 342.70 504.30)">GO: metallopeptidase activity</text>
<text x="352.98" y="504.30" font-size="8.3" font-weight="bold" text-anchor="end" fill="#111" textLength="89.2" lengthAdjust="spacingAndGlyphs" transform="rotate(-74.3 352.98 504.30)">GO: calcium ion binding</text>
<text x="363.26" y="504.30" font-size="8.3" font-weight="bold" text-anchor="end" fill="#111" textLength="127.0" lengthAdjust="spacingAndGlyphs" transform="rotate(-74.3 363.26 504.30)">GO: metalloendopeptidase activity</text>
<text x="373.54" y="504.30" font-size="8.3" font-weight="bold" text-anchor="end" fill="#111" textLength="118.4" lengthAdjust="spacingAndGlyphs" transform="rotate(-74.3 373.54 504.30)">GO: glycosaminoglycan binding</text>
<text x="383.82" y="504.30" font-size="8.3" font-weight="bold" text-anchor="end" fill="#111" textLength="75.0" lengthAdjust="spacingAndGlyphs" transform="rotate(-74.3 383.82 504.30)">GO: integrin binding</text>
</g>
<g id="pD">
<circle cx="600.75" cy="351" r="1.9" fill="#0a0ad8"/>
<circle cx="565" cy="359.25" r="1.9" fill="#0a0ad8"/>
<circle cx="622.3" cy="372.25" r="1.9" fill="#0a0ad8"/>
<circle cx="540.75" cy="383.75" r="1.9" fill="#0a0ad8"/>
<circle cx="581.25" cy="382.75" r="1.9" fill="#0a0ad8"/>
<circle cx="515" cy="401.5" r="1.9" fill="#0a0ad8"/>
<circle cx="617" cy="400.75" r="1.9" fill="#0a0ad8"/>
<circle cx="596.75" cy="414.75" r="1.9" fill="#0a0ad8"/>
<circle cx="498.75" cy="433" r="1.9" fill="#0a0ad8"/>
<circle cx="631.75" cy="434.5" r="1.9" fill="#0a0ad8"/>
<circle cx="538.75" cy="450.25" r="1.9" fill="#0a0ad8"/>
<circle cx="512.5" cy="465" r="1.9" fill="#0a0ad8"/>
<circle cx="486.5" cy="470" r="1.9" fill="#0a0ad8"/>
<circle cx="538.75" cy="484.9" r="1.9" fill="#0a0ad8"/>
<circle cx="622.7" cy="485" r="1.9" fill="#0a0ad8"/>
<circle cx="643" cy="349" r="1.9" fill="#0a0ad8"/>
<circle cx="664.5" cy="369" r="1.9" fill="#0a0ad8"/>
<circle cx="692.5" cy="370.25" r="1.9" fill="#0a0ad8"/>
<circle cx="718.25" cy="389.25" r="1.9" fill="#0a0ad8"/>
<circle cx="649.5" cy="394.25" r="1.9" fill="#0a0ad8"/>
<circle cx="686.75" cy="403.25" r="1.9" fill="#0a0ad8"/>
<circle cx="744.5" cy="415.5" r="1.9" fill="#0a0ad8"/>
<circle cx="662" cy="425" r="1.9" fill="#0a0ad8"/>
<circle cx="689.25" cy="437" r="1.9" fill="#0a0ad8"/>
<circle cx="740.5" cy="448" r="1.9" fill="#0a0ad8"/>
<circle cx="762" cy="467.5" r="1.9" fill="#0a0ad8"/>
<circle cx="556.25" cy="518.25" r="1.9" fill="#0a0ad8"/>
<circle cx="492.5" cy="529.25" r="1.9" fill="#0a0ad8"/>
<circle cx="609.6" cy="529.4" r="1.9" fill="#0a0ad8"/>
<circle cx="517.5" cy="546.25" r="1.9" fill="#0a0ad8"/>
<circle cx="549.5" cy="551.5" r="1.9" fill="#0a0ad8"/>
<circle cx="582" cy="546.5" r="1.9" fill="#0a0ad8"/>
<circle cx="628" cy="554.25" r="1.9" fill="#0a0ad8"/>
<circle cx="518.25" cy="574" r="1.9" fill="#0a0ad8"/>
<circle cx="572.75" cy="575" r="1.9" fill="#0a0ad8"/>
<circle cx="613.8" cy="577.8" r="1.9" fill="#0a0ad8"/>
<circle cx="541.25" cy="590.5" r="1.9" fill="#0a0ad8"/>
<circle cx="593.75" cy="598.25" r="1.9" fill="#0a0ad8"/>
<circle cx="568" cy="611.5" r="1.9" fill="#0a0ad8"/>
<circle cx="705.2" cy="510" r="1.9" fill="#0a0ad8"/>
<circle cx="733" cy="512.8" r="1.9" fill="#0a0ad8"/>
<circle cx="753.7" cy="530.8" r="1.9" fill="#0a0ad8"/>
<circle cx="657.5" cy="544.8" r="1.9" fill="#0a0ad8"/>
<circle cx="713.3" cy="541.2" r="1.9" fill="#0a0ad8"/>
<circle cx="738" cy="563.3" r="1.9" fill="#0a0ad8"/>
<circle cx="703" cy="598.7" r="1.9" fill="#0a0ad8"/>
<circle cx="672.4" cy="614.4" r="1.9" fill="#0a0ad8"/>
<rect x="523.5" y="514.1" width="2.2" height="0.9" fill="#2a2ad8"/><rect x="637.3" y="516.9" width="2.4" height="0.9" fill="#2a2ad8"/>
<path d="M703.7 570.9 A1.8 1.8 0 0 1 707.3 570.9 Z" fill="#0a0ad8"/>
<rect x="640.4" y="614.2" width="0.8" height="2.4" fill="#4a4ae0"/>
<g stroke="#e83a58" stroke-width="1.1">
<line x1="580.5" y1="455.25" x2="598.75" y2="455.75"/>
<line x1="580.5" y1="455.25" x2="571.75" y2="471"/>
<line x1="580.5" y1="455.25" x2="590" y2="471.5"/>
<line x1="598.75" y1="455.75" x2="590" y2="471.5"/>
<line x1="571.75" y1="471" x2="590" y2="471.5"/>
<line x1="657.5" y1="464" x2="673" y2="473"/>
<line x1="673" y1="473" x2="685.75" y2="484.75"/>
<line x1="673" y1="473" x2="663.2" y2="488.3"/>
</g>
<line x1="669" y1="577.3" x2="652.2" y2="583.8" stroke="#f0a090" stroke-width="1.1"/>
<circle cx="580.5" cy="455.25" r="7" fill="#fa0a0a"/>
<circle cx="598.75" cy="455.75" r="6" fill="#b0105c"/>
<circle cx="571.75" cy="471" r="5.9" fill="#a81058"/>
<circle cx="590" cy="471.5" r="7.25" fill="#fa0a0a"/>
<circle cx="657.5" cy="464" r="4.5" fill="#5a10b0"/>
<circle cx="673" cy="473" r="7.5" fill="#fa0a0a"/>
<circle cx="685.75" cy="484.75" r="4.5" fill="#5010b0"/>
<circle cx="663.2" cy="488.3" r="4.5" fill="#5010b0"/>
<circle cx="669" cy="577.3" r="4.5" fill="#5010a8"/>
<circle cx="652.2" cy="583.8" r="4.5" fill="#6010a0"/>
<g stroke="#111" stroke-width="1.2">
<line x1="555" y1="430.25" x2="577" y2="446.5"/>
<line x1="622.5" y1="432" x2="604.25" y2="449.75"/>
<line x1="567.5" y1="479" x2="533" y2="492.75"/>
<line x1="594.5" y1="480" x2="609.25" y2="502"/>
<line x1="682.5" y1="432.75" x2="657.5" y2="457.25"/>
<line x1="681.25" y1="470.25" x2="706.25" y2="469"/>
<line x1="690.3" y1="490.7" x2="715.8" y2="498.2"/>
<line x1="663.1" y1="495.4" x2="669.6" y2="516.5"/>
<line x1="673.8" y1="576.2" x2="687" y2="577.6"/>
<line x1="648.2" y1="587.2" x2="629.5" y2="599.2"/>
</g>
<text x="498.00" y="423.85" font-size="11.4" font-weight="bold" text-anchor="start" fill="#111" textLength="78.8" lengthAdjust="spacingAndGlyphs">LOC101119076</text>
<text x="607.00" y="425.10" font-size="11.4" font-weight="bold" text-anchor="start" fill="#111" textLength="48.5" lengthAdjust="spacingAndGlyphs">HSD17B2</text>
<text x="669.25" y="426.60" font-size="11.4" font-weight="bold" text-anchor="start" fill="#111" textLength="47.0" lengthAdjust="spacingAndGlyphs">HMGCS2</text>
<text x="710.75" y="473.85" font-size="11.4" font-weight="bold" text-anchor="start" fill="#111" textLength="30.0" lengthAdjust="spacingAndGlyphs">APOB</text>
<text x="725.20" y="501.60" font-size="11.4" font-weight="bold" text-anchor="start" fill="#111" textLength="36.8" lengthAdjust="spacingAndGlyphs">APOC3</text>
<text x="470.75" y="508.10" font-size="11.4" font-weight="bold" text-anchor="start" fill="#111" textLength="79.2" lengthAdjust="spacingAndGlyphs">LOC101106976</text>
<text x="581.25" y="518.10" font-size="11.4" font-weight="bold" text-anchor="start" fill="#111" textLength="41.2" lengthAdjust="spacingAndGlyphs">CYP1A1</text>
<text x="637.90" y="532.50" font-size="11.4" font-weight="bold" text-anchor="start" fill="#111" textLength="78.5" lengthAdjust="spacingAndGlyphs">LOC101104832</text>
<text x="691.20" y="584.90" font-size="11.4" font-weight="bold" text-anchor="start" fill="#111" textLength="33.6" lengthAdjust="spacingAndGlyphs">MMP7</text>
<text x="610.60" y="615.20" font-size="11.4" font-weight="bold" text-anchor="start" fill="#111" textLength="25.2" lengthAdjust="spacingAndGlyphs">CTSL</text>
<defs><linearGradient id="gD1" x1="0" y1="0" x2="1" y2="0"><stop offset="0" stop-color="#0000ff"/><stop offset="0.5" stop-color="#84087c"/><stop offset="1" stop-color="#ff0000"/></linearGradient>
<linearGradient id="gD2" x1="0" y1="0" x2="1" y2="0"><stop offset="0" stop-color="#fdeeee"/><stop offset="1" stop-color="#cc2a30"/></linearGradient></defs>
<rect x="553.75" y="620" width="90.3" height="14.5" fill="url(#gD1)"/>
<rect x="686" y="621" width="52.8" height="13.2" fill="url(#gD2)"/>
<line x1="686" x2="738.8" y1="634.3" y2="634.3" stroke="#a03030" stroke-width="0.6"/>
<text x="555.50" y="645.90" font-size="9.2" font-weight="bold" text-anchor="middle" fill="#222">0.0</text>
<text x="601.20" y="645.90" font-size="9.2" font-weight="bold" text-anchor="middle" fill="#222">2.5</text>
<text x="638.40" y="645.90" font-size="9.2" font-weight="bold" text-anchor="middle" fill="#222">5.0</text>
<text x="542.50" y="660.10" font-size="9" font-weight="bold" text-anchor="start" fill="#222" textLength="102.0" lengthAdjust="spacingAndGlyphs">Number of connections</text>
<text x="686.00" y="646.60" font-size="8.8" font-weight="bold" text-anchor="middle" fill="#222">0</text>
<text x="731.30" y="646.60" font-size="8.8" font-weight="bold" text-anchor="start" fill="#222" textLength="23.5" lengthAdjust="spacingAndGlyphs">1,000</text>
<text x="688.40" y="662.00" font-size="9" font-weight="bold" text-anchor="start" fill="#222" textLength="40.6" lengthAdjust="spacingAndGlyphs">PPI score</text>
</g>
</svg>
</body></html>
